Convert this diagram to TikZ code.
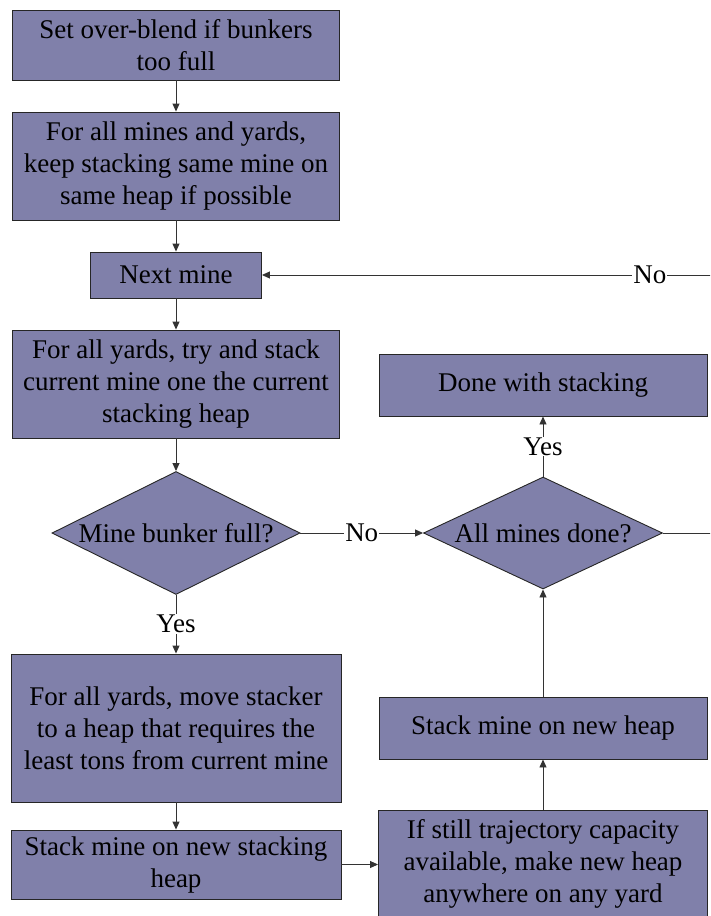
\documentclass[tikz,border=0pt]{standalone}
\usepackage{fontspec}
\setmainfont{Liberation Serif}
\usetikzlibrary{shapes.geometric,arrows.meta}
\definecolor{boxfill}{RGB}{128,128,170}

\begin{document}
\begin{tikzpicture}[x=1pt,y=-1pt,
  every node/.style={font=\fontsize{27}{32}\selectfont},
  procbox/.style={draw=black!85, fill=boxfill, line width=0.9pt, rectangle,
    align=center, inner sep=0pt},
  decision/.style={draw=black!85, fill=boxfill, line width=0.9pt, diamond,
    inner sep=0pt},
  flow/.style={draw=black!80, line width=0.9pt, -{Triangle[length=8pt,width=7pt]}},
  plainline/.style={draw=black!80, line width=0.9pt},
  edgelabel/.style={fill=white, inner sep=1pt}
]
\useasboundingbox (0,0) rectangle (710,916);
\clip (0,0) rectangle (710,916);

% left column
\node[procbox, minimum width=327pt, minimum height=70pt]
  (b1) at (176,45) {Set over-blend if bunkers\\too full};
\node[procbox, minimum width=327pt, minimum height=108pt]
  (b2) at (176,166) {For all mines and yards,\\keep stacking same mine on\\same heap if possible};
\node[procbox, minimum width=171pt, minimum height=46pt]
  (b3) at (176,275) {Next mine};
\node[procbox, minimum width=327pt, minimum height=108pt]
  (b4) at (176,384) {For all yards, try and stack\\current mine one the current\\stacking heap};
\node[decision, minimum width=248pt, minimum height=123pt, aspect=2.02]
  (d1) at (176,533) {Mine bunker full?};
\node[procbox, minimum width=330pt, minimum height=148pt]
  (b5) at (176,728) {For all yards, move stacker\\to a heap that requires the\\least tons from current mine};
\node[procbox, minimum width=330pt, minimum height=69pt]
  (b6) at (176,864.5) {Stack mine on new stacking\\heap};

% right column
\node[procbox, minimum width=328pt, minimum height=62pt]
  (done) at (543,385) {Done with stacking};
\node[decision, minimum width=239pt, minimum height=112pt, aspect=2.13]
  (d2) at (543,533) {All mines done?};
\node[procbox, minimum width=328pt, minimum height=62pt]
  (b8) at (543,728) {Stack mine on new heap};
\node[procbox, minimum width=329pt, minimum height=108pt]
  (b7) at (543,864) {If still trajectory capacity\\available, make new heap\\anywhere on any yard};

% loop-back route off the right edge
\coordinate (r1) at (730,533);
\coordinate (r2) at (730,275);

% connectors
\draw[flow] (b1.south) -- (b2.north);
\draw[flow] (b2.south) -- (b3.north);
\draw[flow] (b3.south) -- (b4.north);
\draw[flow] (b4.south) -- (d1.north);
\draw[flow] (d1.south) -- node[edgelabel] {Yes} (b5.north);
\draw[flow] (d1.east) -- node[edgelabel] {No} (d2.west);
\draw[flow] (d2.north) -- node[edgelabel] {Yes} (done.south);
\draw[flow] (b5.south) -- (b6.north);
\draw[flow] (b6.east) -- (b6.east -| b7.west);
\draw[flow] (b7.north) -- (b8.south);
\draw[flow] (b8.north) -- (d2.south);
\draw[plainline] (d2.east) -- (r1) -- (r2);
\draw[flow] (r2) -- node[edgelabel, pos=0.171] {No} (b3.east);
\end{tikzpicture}
\end{document}
